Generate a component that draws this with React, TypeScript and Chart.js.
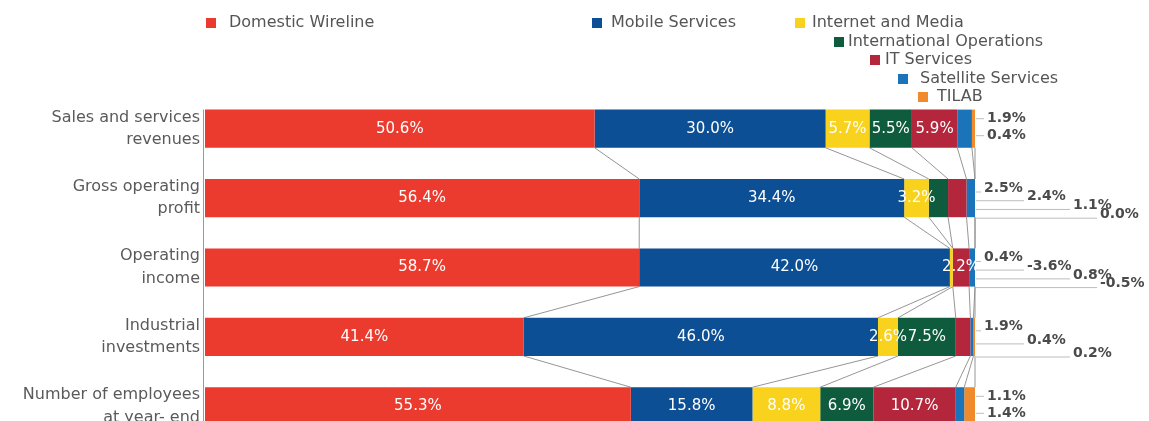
import React, { useEffect, useRef } from "react";
import { Chart, registerables } from "chart.js";
Chart.register(...registerables);

const categories = [
  ["Sales and services", "revenues"],
  ["Gross operating", "profit"],
  ["Operating", "income"],
  ["Industrial", "investments"],
  ["Number of employees", "at year- end"],
];
const seriesNames = [
  "Domestic Wireline",
  "Mobile Services",
  "Internet and Media",
  "International Operations",
  "IT Services",
  "Satellite Services",
  "TILAB",
];
const domesticWireline = [50.6, 56.4, 58.7, 41.4, 55.3];
const mobileServices = [30.0, 34.4, 42.0, 46.0, 15.8];
const internetMedia = [5.7, 3.2, 0.4, 2.6, 8.8];
const internationalOps = [5.5, 2.5, -3.6, 7.5, 6.9];
const itServices = [5.9, 2.4, 2.2, 1.9, 10.7];
const satelliteServices = [1.9, 1.1, 0.8, 0.4, 1.1];
const tilab = [0.4, 0.0, -0.5, 0.2, 1.4];
const seriesColors = ["#EB3B2F", "#0D4F94", "#F8D21C", "#0E5B3E", "#B3263C", "#1B73BA", "#EF8B2C"];
// which series of each row are labelled outside the bar
const outsideLabels = [[5, 6], [3, 4, 5, 6], [2, 3, 5, 6], [4, 5, 6], [5, 6]];

const series = [domesticWireline, mobileServices, internetMedia, internationalOps, itServices, satelliteServices, tilab];

const FONT = "'DejaVu Sans', sans-serif";

// legend layout: [squareX, centerY, textX]
const legendPos = [
  [206, 23, 229],
  [592, 23, 611],
  [795, 23, 812],
  [834, 42, 848],
  [870, 60, 885],
  [898, 79, 920],
  [918, 97, 937],
];
const stairX = [9, 52, 98, 125];

const overlayPlugin = {
  id: "overlay",
  beforeDatasetsDraw(chart: any) {
    const ctx = chart.ctx;
    const n = series.length;
    ctx.save();
    ctx.strokeStyle = "#8a8a8a";
    ctx.lineWidth = 0.9;
    for (let d = 0; d < n; d++) {
      const meta = chart.getDatasetMeta(d);
      for (let r = 0; r < categories.length - 1; r++) {
        const a = meta.data[r].getProps(["x", "y", "height"], true);
        const b = meta.data[r + 1].getProps(["x", "y", "height"], true);
        ctx.beginPath();
        ctx.moveTo(a.x, a.y + a.height / 2);
        ctx.lineTo(b.x, b.y - b.height / 2);
        ctx.stroke();
      }
    }
    // y axis line
    const first = chart.getDatasetMeta(0).data[0].getProps(["y", "height"], true);
    ctx.strokeStyle = "#9a9a9a";
    ctx.lineWidth = 1;
    ctx.beginPath();
    ctx.moveTo(chart.chartArea.left - 1.5, first.y - first.height / 2);
    ctx.lineTo(chart.chartArea.left - 1.5, chart.chartArea.bottom);
    ctx.stroke();
    ctx.restore();
  },
  afterDatasetsDraw(chart: any) {
    const ctx = chart.ctx;
    const n = series.length;
    ctx.save();
    // inside labels
    ctx.font = `15px ${FONT}`;
    ctx.textAlign = "center";
    ctx.textBaseline = "middle";
    ctx.fillStyle = "#ffffff";
    for (let r = 0; r < categories.length; r++) {
      for (let d = 0; d < n; d++) {
        if (outsideLabels[r].includes(d)) continue;
        const el = chart.getDatasetMeta(d).data[r].getProps(["x", "y", "base"], true);
        const v = series[d][r];
        ctx.fillText(v.toFixed(1) + "%", (el.x + el.base) / 2, el.y);
      }
    }
    // outside labels
    const xEnd = chart.chartArea.right;
    ctx.textAlign = "left";
    for (let r = 0; r < categories.length; r++) {
      const list = outsideLabels[r];
      const el = chart.getDatasetMeta(0).data[r].getProps(["y", "height"], true);
      const top = el.y - el.height / 2;
      const m = list.length;
      list.forEach((d, k) => {
        let lx, ly, lineY;
        if (m <= 2) {
          lx = xEnd + 12;
          ly = el.y - 10 + k * 17;
          lineY = ly;
        } else {
          lx = xEnd + stairX[k];
          ly = top + 9 + k * ((el.height - 12) / (m - 1));
          lineY = ly + 4;
        }
        ctx.strokeStyle = "#bdbdbd";
        ctx.lineWidth = 1;
        ctx.beginPath();
        ctx.moveTo(xEnd + 1, lineY);
        ctx.lineTo(lx - 3, lineY);
        ctx.stroke();
        ctx.fillStyle = "#4a4a4a";
        ctx.font = `bold 14px ${FONT}`;
        ctx.fillText(series[d][r].toFixed(1) + "%", lx, ly);
      });
    }
    // legend
    ctx.font = `16px ${FONT}`;
    ctx.textBaseline = "middle";
    seriesNames.forEach((name, i) => {
      const [sx, cy, tx] = legendPos[i];
      ctx.fillStyle = seriesColors[i];
      ctx.fillRect(sx, cy - 5, 10, 10);
      ctx.fillStyle = "#555555";
      ctx.fillText(name, tx, cy);
    });
    ctx.restore();
  },
};

export default function App() {
  const ref = useRef<HTMLCanvasElement>(null);
  useEffect(() => {
    if (!ref.current) return;
    const datasets = series.map((vals, i) => ({
      label: seriesNames[i],
      data: vals.map((v, r) => {
        const posSum = series.reduce((s, arr) => s + Math.max(arr[r], 0), 0);
        return (Math.max(v, 0) / posSum) * 100;
      }),
      backgroundColor: seriesColors[i],
      borderWidth: 0,
      categoryPercentage: 1,
      barPercentage: 0.55,
    }));
    const chart = new Chart(ref.current, {
      type: "bar",
      data: { labels: categories, datasets },
      options: {
        indexAxis: "y",
        responsive: false,
        animation: false,
        layout: { padding: { top: 94, bottom: 0, left: 0, right: 174 } },
        plugins: { legend: { display: false }, tooltip: { enabled: false } },
        scales: {
          x: { stacked: true, display: false, min: 0, max: 100 },
          y: {
            stacked: true,
            grid: { display: false, drawTicks: false },
            border: { display: false },
            afterFit: (scale: any) => {
              scale.width = 205;
              scale.paddingTop = 0;
              scale.paddingBottom = 0;
            },
            ticks: {
              color: "#5a5a5a",
              padding: 5,
              font: { family: FONT, size: 16, lineHeight: 1.4 },
            },
          },
        },
      },
      plugins: [overlayPlugin],
    });
    return () => chart.destroy();
  }, []);
  return (
    <div style={{ position: "fixed", left: 0, top: 0, width: 1149, height: 421, overflow: "hidden", background: "#fff" }}>
      <canvas ref={ref} width={1149} height={441} />
    </div>
  );
}
